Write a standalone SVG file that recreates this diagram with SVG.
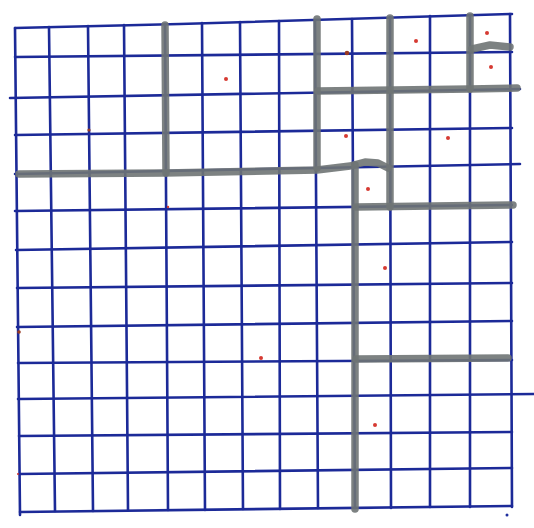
<svg xmlns="http://www.w3.org/2000/svg" width="534" height="528" viewBox="0 0 534 528">
  <style>
    .grid { stroke: #1c2a98; stroke-width: 2.6; fill: none; stroke-linecap: round; }
    .wall { stroke: #6f7474; stroke-width: 7.5; fill: none; stroke-linecap: round; stroke-linejoin: round; opacity: 0.9; }
    .dot { fill: #d63a32; }
    .mark { fill: #9a3a22; }
  </style>
  <rect width="534" height="528" fill="#ffffff"/>
  <g id="grid-horizontal">
    <path class="grid" d="M15,28 L180,24 L512,14"/>
    <path class="grid" d="M15,57 L512,52"/>
    <path class="grid" d="M10,98 L520,89"/>
    <path class="grid" d="M15,135 L512,128"/>
    <path class="grid" d="M15,174 L520,164"/>
    <path class="grid" d="M15,211 L512,205"/>
    <path class="grid" d="M16,250 L512,242"/>
    <path class="grid" d="M17,288 L512,283"/>
    <path class="grid" d="M17,327 L512,321"/>
    <path class="grid" d="M18,363 L512,360"/>
    <path class="grid" d="M18,399 L534,394"/>
    <path class="grid" d="M19,436 L512,432"/>
    <path class="grid" d="M19,474 L512,468"/>
    <path class="grid" d="M20,512 L512,506"/>
  </g>
  <g id="grid-vertical">
    <path class="grid" d="M15,28 L20,515"/>
    <path class="grid" d="M49,27 L55,511"/>
    <path class="grid" d="M88,26 L93,511"/>
    <path class="grid" d="M124,25 L128,510"/>
    <path class="grid" d="M165,24 L168,510"/>
    <path class="grid" d="M202,23 L205,510"/>
    <path class="grid" d="M240,22 L243,509"/>
    <path class="grid" d="M279,21 L280,509"/>
    <path class="grid" d="M315,20 L318,508"/>
    <path class="grid" d="M352,19 L355,508"/>
    <path class="grid" d="M390,17 L391,508"/>
    <path class="grid" d="M430,16 L430,507"/>
    <path class="grid" d="M470,15 L470,507"/>
    <path class="grid" d="M510,14 L512,507"/>
  </g>
  <g id="walls">
    <path class="wall" d="M165,25 L166,173"/>
    <path class="wall" d="M19,174 L165,173 L317,170 L350,166 L365,162 L378,163 L388,168"/>
    <path class="wall" d="M317,19 L317,168"/>
    <path class="wall" d="M390,18 L390,207"/>
    <path class="wall" d="M318,91 L470,89 L517,88"/>
    <path class="wall" d="M470,16 L470,89"/>
    <path class="wall" d="M472,49 L490,45 L510,47"/>
    <path class="wall" d="M356,207 L513,205"/>
    <path class="wall" d="M355,165 L355,509"/>
    <path class="wall" d="M356,359 L508,358"/>
  </g>
  <g id="dots">
    <circle class="dot" cx="226" cy="79" r="2"/>
    <circle class="mark" cx="347" cy="53" r="2.3"/>
    <circle class="dot" cx="416" cy="41" r="2"/>
    <circle class="dot" cx="487" cy="33" r="2"/>
    <circle class="dot" cx="491" cy="67" r="2"/>
    <circle class="dot" cx="346" cy="136" r="2"/>
    <circle class="dot" cx="448" cy="138" r="2"/>
    <circle class="dot" cx="368" cy="189" r="2"/>
    <circle class="dot" cx="385" cy="268" r="2"/>
    <circle class="dot" cx="261" cy="358" r="2"/>
    <circle class="dot" cx="375" cy="425" r="2"/>
    <circle class="mark" cx="89" cy="130" r="1.6"/>
    <circle class="dot" cx="168" cy="207" r="1.2"/>
    <circle class="mark" cx="19" cy="332" r="1.8"/>
    <circle class="dot" cx="18" cy="474" r="1"/>
    <circle cx="507" cy="515" r="1.5" fill="#1f2f9e"/>
  </g>
</svg>
